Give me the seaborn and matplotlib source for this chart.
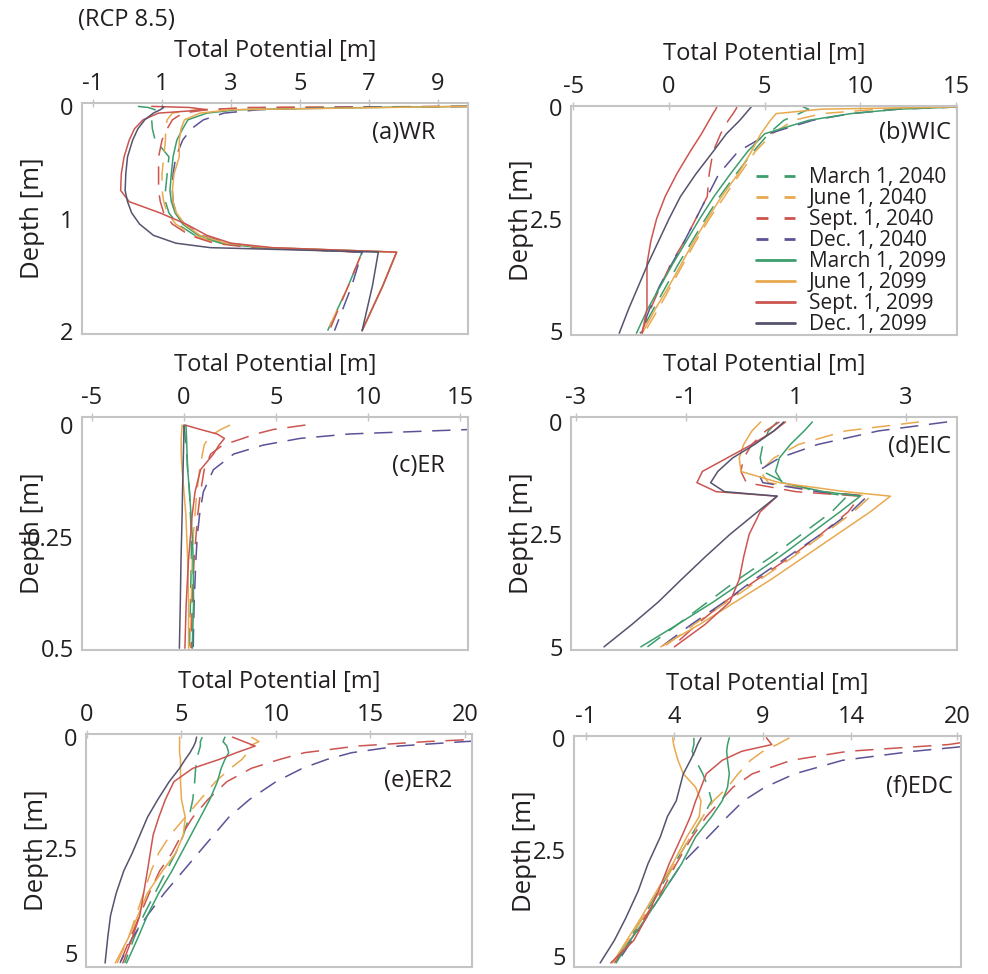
import matplotlib
matplotlib.use("Agg")
import matplotlib.pyplot as plt
import matplotlib.transforms as mtransforms
import seaborn as sns
import pandas as pd

# ---------------------------------------------------------------------------
# Data
# ---------------------------------------------------------------------------
SERIES = ["March 1, 2040", "June 1, 2040", "Sept. 1, 2040", "Dec. 1, 2040",
          "March 1, 2099", "June 1, 2099", "Sept. 1, 2099", "Dec. 1, 2099"]

# (a) WR
WR_DEPTH = [0, 0.01, 0.03, 0.06, 0.12, 0.2, 0.3, 0.45, 0.6, 0.75, 0.85, 0.95, 1.05, 1.15, 1.22, 1.26, 1.3, 1.6, 2.0]
WR_MAR40 = [0.3, 0.6, 0.8, 0.75, 0.7, 0.72, 0.8, 1.2, 1.15, 1.1, 1.1, 1.2, 1.45, 1.95, 2.7, 3.8, 6.8, 6.4, 5.8]
WR_JUN40 = [9.9, 4.0, 2.0, 1.3, 1.15, 1.1, 1.1, 1.05, 1.0, 1.0, 1.05, 1.15, 1.4, 1.9, 2.6, 3.8, 6.8, 6.4, 5.8]
WR_SEP40 = [9.9, 3.5, 2.3, 1.6, 1.3, 1.15, 1.0, 0.9, 0.9, 0.9, 0.95, 1.05, 1.3, 1.8, 2.5, 3.6, 6.8, 6.4, 5.85]
WR_DEC40 = [9.9, 6.0, 3.8, 2.8, 2.2, 1.85, 1.6, 1.4, 1.32, 1.3, 1.32, 1.4, 1.65, 2.15, 2.9, 4.0, 6.8, 6.5, 6.0]
WR_MAR99 = [9.9, 7.0, 3.2, 2.3, 1.75, 1.6, 1.43, 1.32, 1.27, 1.23, 1.27, 1.38, 1.6, 2.05, 2.8, 4.0, 7.8, 7.4, 6.8]
WR_JUN99 = [9.9, 7.5, 3.0, 2.1, 1.65, 1.55, 1.5, 1.5, 1.35, 1.3, 1.32, 1.42, 1.65, 2.1, 2.85, 4.1, 7.8, 7.4, 6.8]
WR_SEP99 = [0.7, 1.8, 2.3, 0.9, 0.45, 0.2, 0.05, -0.1, -0.18, -0.2, 0.05, 0.94, 1.7, 2.3, 3.0, 4.2, 7.8, 7.4, 6.8]
WR_DEC99 = [1.0, 1.05, 0.95, 0.75, 0.5, 0.3, 0.15, 0.0, -0.05, -0.07, 0.0, 0.12, 0.35, 0.75, 1.4, 2.4, 7.27, 7.1, 6.8]

# (b) WIC
WIC_DEPTH = [0, 0.05, 0.15, 0.3, 0.6, 1.0, 1.5, 2.0, 2.5, 3.0, 3.5, 4.0, 4.5, 5.05]
WIC_MAR40 = [7.0, 7.3, 6.8, 6.0, 5.2, 4.4, 3.5, 2.65, 1.9, 1.2, 0.5, -0.15, -0.8, -1.5]
WIC_JUN40 = [15.2, 11.0, 8.0, 6.5, 5.4, 4.5, 3.7, 2.9, 2.1, 1.4, 0.75, 0.1, -0.55, -1.3]
WIC_SEP40 = [3.55, 3.5, 3.35, 3.1, 2.7, 2.3, 2.1, 2.0, 1.4, 0.8, 0.1, -0.45, -0.95, -1.45]
WIC_DEC40 = [15.2, 12.0, 9.5, 7.5, 5.2, 3.6, 2.6, 2.0, 1.4, 0.8, 0.15, -0.5, -1.0, -1.5]
WIC_MAR99 = [15.2, 12.0, 9.5, 7.3, 5.0, 4.1, 3.2, 2.35, 1.6, 0.9, 0.2, -0.45, -1.1, -1.7]
WIC_JUN99 = [15.2, 8.0, 5.6, 5.3, 4.8, 4.3, 3.6, 2.75, 2.0, 1.3, 0.65, 0.0, -0.7, -1.4]
WIC_SEP99 = [2.5, 2.45, 2.3, 2.1, 1.7, 1.1, 0.4, -0.2, -0.65, -0.95, -1.15, -1.15, -1.15, -1.4]
WIC_DEC99 = [4.3, 4.2, 4.0, 3.7, 3.0, 2.3, 1.4, 0.6, 0.0, -0.55, -1.1, -1.6, -2.1, -2.6]

# (c) ER
ER_DEPTH = [0, 0.01, 0.02, 0.03, 0.045, 0.065, 0.1, 0.15, 0.2, 0.25, 0.3, 0.4, 0.5]
ER_MAR40 = [0.0, 0.02, 0.05, 0.07, 0.1, 0.15, 0.2, 0.3, 0.35, 0.4, 0.4, 0.35, 0.3]
ER_JUN40 = [2.5, 2.0, 1.6, 1.3, 1.1, 1.0, 0.85, 0.7, 0.6, 0.5, 0.45, 0.4, 0.35]
ER_SEP40 = [6.6, 4.85, 3.9, 3.2, 2.1, 1.45, 1.1, 0.9, 0.75, 0.65, 0.55, 0.45, 0.4]
ER_DEC40 = [16.0, 15.5, 9.0, 6.3, 4.3, 2.7, 1.6, 1.05, 0.85, 0.72, 0.65, 0.55, 0.5]
ER_MAR99 = [0.1, 0.12, 0.13, 0.14, 0.15, 0.17, 0.2, 0.3, 0.38, 0.45, 0.5, 0.52, 0.45]
ER_JUN99 = [-0.1, -0.12, -0.13, -0.15, -0.15, -0.15, -0.1, 0.0, 0.1, 0.15, 0.2, 0.25, 0.25]
ER_SEP99 = [0.05, 0.9, 1.8, 2.2, 1.9, 1.6, 0.9, 0.6, 0.45, 0.35, 0.25, 0.12, 0.05]
ER_DEC99 = [0.0, 0.0, -0.01, -0.01, -0.02, -0.03, -0.05, -0.08, -0.1, -0.13, -0.16, -0.2, -0.25]

# (d) EIC
EIC_DEPTH = [0, 0.2, 0.5, 0.8, 1.1, 1.35, 1.55, 1.65, 2.0, 2.5, 3.0, 3.5, 4.0, 4.5, 5.0]
EIC_MAR40 = [0.66, 0.5, 0.4, 0.35, 0.4, 0.8, 1.4, 1.93, 1.65, 1.1, 0.55, -0.05, -0.6, -1.15, -1.7]
EIC_JUN40 = [3.24, 1.9, 1.05, 0.6, 0.35, 0.5, 1.5, 2.36, 2.05, 1.5, 0.95, 0.35, -0.25, -0.85, -1.4]
EIC_SEP40 = [0.7, 0.45, 0.2, 0.05, 0.0, 0.1, 1.0, 2.17, 1.95, 1.45, 0.9, 0.3, -0.3, -0.8, -1.25]
EIC_DEC40 = [3.75, 2.5, 1.4, 0.7, 0.3, 0.4, 1.4, 2.3, 2.0, 1.45, 0.85, 0.25, -0.3, -0.9, -1.45]
EIC_MAR99 = [1.3, 1.15, 0.9, 0.7, 0.63, 0.75, 1.5, 2.17, 1.8, 1.25, 0.7, 0.1, -0.5, -1.15, -1.82]
EIC_JUN99 = [0.36, 0.2, 0.05, -0.03, 0.0, 0.7, 1.9, 2.72, 2.35, 1.75, 1.15, 0.55, -0.1, -0.75, -1.46]
EIC_SEP99 = [0.81, 0.6, 0.2, -0.25, -0.7, -0.8, -0.45, 0.66, 0.35, 0.15, 0.05, -0.03, -0.2, -0.65, -1.21]
EIC_DEC99 = [0.78, 0.6, 0.25, -0.15, -0.42, -0.55, -0.3, 0.66, 0.3, -0.2, -0.65, -1.08, -1.5, -1.98, -2.49]

# (e) ER2
ER2_DEPTH = [0, 0.1, 0.2, 0.35, 0.5, 0.7, 1.0, 1.4, 1.8, 2.2, 2.6, 3.0, 3.5, 4.0, 4.5, 5.07]
ER2_MAR40 = [6.1, 6.0, 6.0, 5.9, 5.8, 5.75, 5.7, 5.6, 5.4, 5.1, 4.7, 4.2, 3.6, 3.0, 2.5, 2.0]
ER2_JUN40 = [8.7, 9.1, 8.6, 8.5, 8.2, 7.6, 6.8, 6.0, 5.2, 4.4, 3.8, 3.4, 3.0, 2.6, 2.2, 1.6]
ER2_SEP40 = [23.0, 18.0, 14.3, 11.5, 10.2, 8.7, 7.4, 6.4, 5.6, 5.0, 4.5, 3.85, 3.3, 2.8, 2.3, 1.75]
ER2_DEC40 = [25.0, 20.0, 16.5, 14.0, 12.7, 11.4, 10.0, 8.6, 7.5, 6.7, 5.9, 5.1, 4.1, 3.2, 2.4, 1.75]
ER2_MAR99 = [7.3, 7.2, 7.4, 7.5, 7.3, 7.1, 6.9, 6.5, 6.0, 5.5, 5.0, 4.5, 3.8, 3.2, 2.7, 2.1]
ER2_JUN99 = [4.9, 4.9, 4.9, 4.9, 4.95, 4.95, 4.95, 5.0, 5.2, 5.1, 4.7, 4.0, 3.2, 2.7, 2.2, 1.5]
ER2_SEP99 = [7.7, 8.3, 8.9, 7.9, 7.0, 5.6, 4.6, 4.15, 3.8, 3.5, 3.35, 3.2, 3.0, 2.8, 2.4, 1.9]
ER2_DEC99 = [5.8, 5.75, 5.65, 5.45, 5.2, 4.9, 4.35, 3.75, 3.2, 2.8, 2.4, 1.95, 1.55, 1.25, 1.1, 0.96]

# (f) EDC
EDC_DEPTH = [0, 0.15, 0.3, 0.5, 0.8, 1.1, 1.4, 1.75, 2.2, 2.8, 3.4, 4.0, 4.5, 5.0]
EDC_MAR40 = [5.1, 5.1, 5.0, 5.2, 5.6, 5.9, 6.1, 5.6, 4.9, 4.0, 3.1, 2.2, 1.4, 0.6]
EDC_JUN40 = [10.5, 9.8, 9.0, 8.3, 7.6, 7.0, 6.2, 5.6, 4.9, 4.0, 3.2, 2.2, 1.4, 0.7]
EDC_SEP40 = [22.0, 19.5, 13.8, 10.6, 8.4, 7.3, 6.6, 5.8, 5.0, 4.1, 3.3, 2.3, 1.5, 0.6]
EDC_DEC40 = [23.0, 21.5, 17.5, 13.5, 10.8, 9.1, 7.9, 7.0, 5.9, 4.4, 3.4, 2.4, 1.6, 0.75]
EDC_MAR99 = [7.1, 7.0, 6.95, 7.0, 7.1, 7.0, 6.7, 6.1, 5.2, 4.4, 3.4, 2.4, 1.5, 0.7]
EDC_JUN99 = [3.9, 3.95, 4.05, 4.2, 4.5, 5.2, 5.5, 5.4, 4.7, 3.9, 3.0, 2.1, 1.3, 0.5]
EDC_SEP99 = [9.2, 9.5, 7.8, 6.7, 5.8, 5.5, 5.2, 4.9, 4.4, 3.7, 3.1, 2.4, 1.7, 0.4]
EDC_DEC99 = [5.5, 5.3, 5.15, 4.9, 4.5, 4.3, 4.1, 3.6, 3.2, 2.5, 1.95, 1.25, 0.6, -0.2]

# ---------------------------------------------------------------------------
# Style
# ---------------------------------------------------------------------------
sns.set_style("white")
plt.rcParams["font.family"] = ["Open Sans", "DejaVu Sans"]
TEXT = "#231f20"
SPINE = "#c4c4c4"
COLORS = ["#3c9e6c", "#e8a94f", "#cc5550", "#5a5396",
          "#3c9e6c", "#e8a94f", "#cc5550", "#55546e"]
PALETTE = dict(zip(SERIES, COLORS))
DASHES = {s: ((12, 7) if "2040" in s else "") for s in SERIES}

PANELS = [
    dict(name="(a)WR", depth=WR_DEPTH,
         vals=[WR_MAR40, WR_JUN40, WR_SEP40, WR_DEC40, WR_MAR99, WR_JUN99, WR_SEP99, WR_DEC99],
         rect=[82, 103, 386, 231], xlim=(-1.32, 9.87), ylim=(2.03, -0.03),
         xticks=[-1, 1, 3, 5, 7, 9], yticks=[0, 1, 2], ylabels=["0", "1", "2"], tag=(0.915, 0.87)),
    dict(name="(b)WIC", depth=WIC_DEPTH,
         vals=[WIC_MAR40, WIC_JUN40, WIC_SEP40, WIC_DEC40, WIC_MAR99, WIC_JUN99, WIC_SEP99, WIC_DEC99],
         rect=[571, 106, 386, 229], xlim=(-5.12, 15.05), ylim=(5.09, -0.02),
         xticks=[-5, 0, 5, 10, 15], yticks=[0, 2.5, 5], ylabels=["0", "2.5", "5"], tag=(0.985, 0.88)),
    dict(name="(c)ER", depth=ER_DEPTH,
         vals=[ER_MAR40, ER_JUN40, ER_SEP40, ER_DEC40, ER_MAR99, ER_JUN99, ER_SEP99, ER_DEC99],
         rect=[82, 417, 386, 233], xlim=(-5.54, 15.43), ylim=(0.504, -0.018),
         xticks=[-5, 0, 5, 10, 15], yticks=[0, 0.25, 0.5], ylabels=["0", "0.25", "0.5"], tag=(0.94, 0.79)),
    dict(name="(d)EIC", depth=EIC_DEPTH,
         vals=[EIC_MAR40, EIC_JUN40, EIC_SEP40, EIC_DEC40, EIC_MAR99, EIC_JUN99, EIC_SEP99, EIC_DEC99],
         rect=[571, 417, 386, 233], xlim=(-3.09, 3.93), ylim=(5.07, -0.11),
         xticks=[-3, -1, 1, 3], yticks=[0, 2.5, 5], ylabels=["0", "2.5", "5"], tag=(0.985, 0.87)),
    dict(name="(e)ER2", depth=ER2_DEPTH,
         vals=[ER2_MAR40, ER2_JUN40, ER2_SEP40, ER2_DEC40, ER2_MAR99, ER2_JUN99, ER2_SEP99, ER2_DEC99],
         rect=[86, 734, 386, 233], xlim=(-0.05, 20.37), ylim=(5.16, -0.07),
         xticks=[0, 5, 10, 15, 20], yticks=[0, 2.5, 5], ylabels=["0", "2.5", "5"], tag=(0.95, 0.80)),
    dict(name="(f)EDC", depth=EDC_DEPTH,
         vals=[EDC_MAR40, EDC_JUN40, EDC_SEP40, EDC_DEC40, EDC_MAR99, EDC_JUN99, EDC_SEP99, EDC_DEC99],
         rect=[574, 736, 387, 231], xlim=(-1.68, 20.2), ylim=(5.09, -0.04),
         xticks=[-1, 4, 9, 14, 20], yticks=[0, 2.5, 5], ylabels=["0", "2.5", "5"], tag=(0.98, 0.78)),
]

W, H = 988, 974
fig = plt.figure(figsize=(W / 100, H / 100), dpi=100)

for i, p in enumerate(PANELS):
    left, top, w, h = p["rect"]
    ax = fig.add_axes([left / W, 1 - (top + h) / H, w / W, h / H])

    rows = []
    for label, values in zip(SERIES, p["vals"]):
        for d, v in zip(p["depth"], values):
            rows.append({"Depth": d, "Potential": v, "Series": label})
    df = pd.DataFrame(rows)

    sns.lineplot(data=df, x="Potential", y="Depth", hue="Series", style="Series",
                 palette=PALETTE, dashes=DASHES, hue_order=SERIES, style_order=SERIES,
                 orient="y", sort=True, errorbar=None, linewidth=1.1,
                 legend=(i == 1), ax=ax)

    ax.set_xlim(*p["xlim"])
    ax.set_ylim(*p["ylim"])
    ax.xaxis.tick_top()
    ax.xaxis.set_label_position("top")
    ax.set_xticks(p["xticks"])
    ax.set_xticklabels([str(t) for t in p["xticks"]])
    ax.set_yticks(p["yticks"])
    ax.set_yticklabels(p["ylabels"])
    ax.tick_params(axis="both", labelsize=17, colors=SPINE, labelcolor=TEXT,
                   direction="inout", length=6, width=1)
    ax.tick_params(axis="x", pad=2)
    ax.tick_params(axis="y", pad=3)
    ax.set_xlabel("Total Potential [m]", fontsize=17, color=TEXT, labelpad=11)
    ax.set_ylabel("Depth [m]", fontsize=18.5, color=TEXT)
    ax.yaxis.set_label_coords(-0.095, 0.5)
    for s in ax.spines.values():
        s.set_color(SPINE)
        s.set_linewidth(1.5)
    ax.text(p["tag"][0], p["tag"][1], p["name"], transform=ax.transAxes,
            ha="right", va="center", fontsize=17, color=TEXT)

    # bottom-row panels: nudge the lowest depth label up so it stays on the page
    if i >= 4:
        lowest = ax.get_yticklabels()[-1]
        lowest.set_transform(lowest.get_transform()
                             + mtransforms.ScaledTranslation(0, 5 / 72, fig.dpi_scale_trans))

    if i == 1:
        leg = ax.legend(loc="upper left", bbox_to_anchor=(0.478, 0.733), frameon=False,
                        fontsize=15, handlelength=1.9, handletextpad=0.65,
                        labelspacing=0.0, borderaxespad=0, borderpad=0)
        for t in leg.get_texts():
            t.set_color(TEXT)
        for hnd, label in zip(leg.legend_handles, SERIES):
            hnd.set_linewidth(2.0)
            if "2040" in label:
                hnd.set_linestyle((0, (4.3, 5.8)))

fig.text(78 / W, 1 - 20 / H, "(RCP 8.5)", fontsize=17, color=TEXT, ha="left", va="center")

fig.savefig("out.png", dpi=100)
